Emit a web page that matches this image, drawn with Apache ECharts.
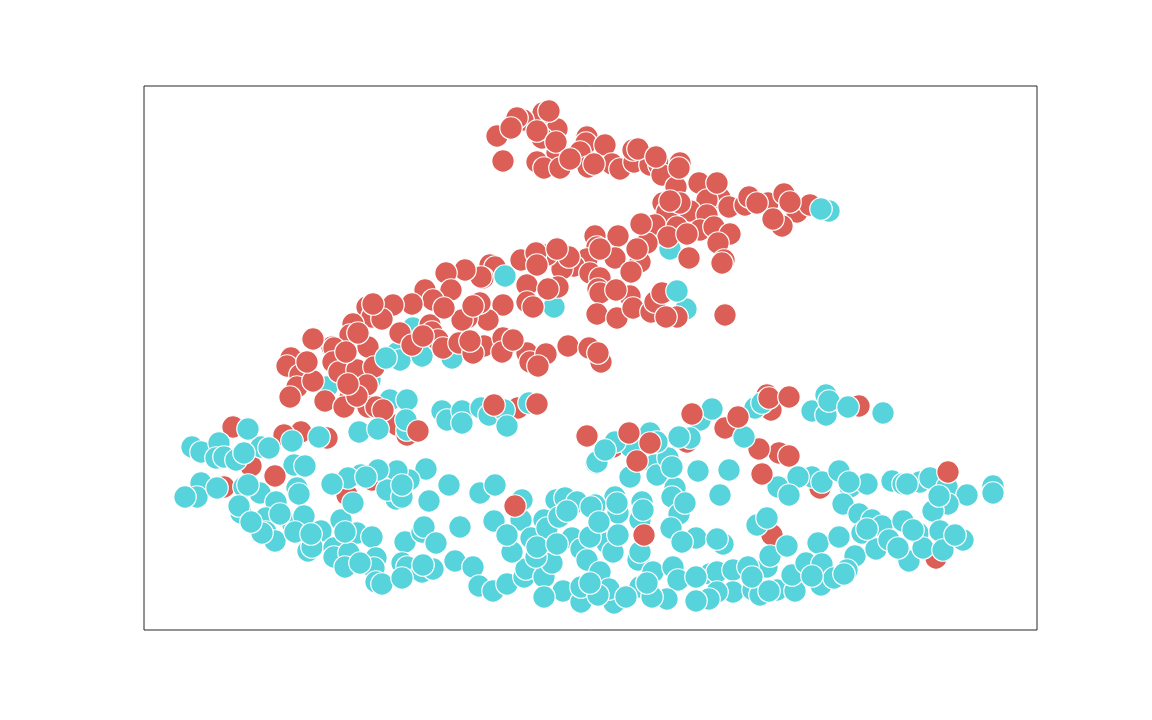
<!DOCTYPE html>
<html>
<head>
<meta charset="utf-8">
<title>scatter</title>
<script src="https://cdn.jsdelivr.net/npm/echarts@6/dist/echarts.min.js"></script>
<style>
html, body { margin: 0; padding: 0; background: #fff; }
#chart { width: 1152px; height: 720px; }
</style>
</head>
<body>
<div id="chart"></div>
<script>
"use strict"

// values, x runs 0..893 and y 0..544 (no axis labels in the original)
var xRange = [0, 893];
var yRange = [0, 544];

// class 1 points that sit under the red cloud
var cyanBack = [[410,323],[526,381],[269,302],[253,277],[256,270],[278,274],[308,272],[183,243],[209,248],[226,250],[246,230],[263,230],[542,321],[685,419]];

var redMain = [[399,517],[379,510],[373,512],[353,494],[413,501],[398,492],[443,493],[442,487],[461,485],[436,478],[413,477],[393,468],[400,462],[416,462],[359,469],[444,463],[468,466],[476,461],[490,468],[489,480],[506,465],[515,465],[518,455],[536,467],[532,443],[555,447],[576,432],[563,430],[585,423],[519,427],[523,418],[546,419],[536,427],[563,415],[601,425],[605,433],[624,427],[640,436],[653,418],[666,425],[638,404],[511,405],[533,403],[524,393],[556,400],[570,403],[586,396],[574,387],[580,370],[578,367],[545,372],[474,394],[451,394],[503,387],[496,368],[456,381],[453,383],[471,372],[443,371],[487,358],[430,364],[446,357],[456,352],[418,361],[425,373],[403,375],[377,370],[392,377],[414,343],[383,345],[383,328],[389,323],[359,325],[346,365],[351,363],[339,352],[454,341],[456,337],[486,334],[453,316],[473,312],[489,322],[507,318],[511,328],[518,337],[533,313],[581,315],[344,310],[336,327],[337,353],[321,360],[302,357],[307,340],[281,340],[289,330],[268,326],[249,325],[223,323],[228,313],[238,311],[209,306],[323,312],[318,310],[206,295],[224,283],[188,283],[190,282],[169,291],[147,272],[143,264],[156,255],[153,243],[146,233],[181,229],[189,268],[195,258],[213,260],[230,263],[223,245],[206,232],[200,223],[224,223],[232,223],[256,297],[286,305],[288,298],[294,290],[268,285],[299,282],[315,287],[340,284],[329,277],[359,292],[358,278],[383,277],[386,268],[402,276],[394,264],[424,284],[445,282],[457,268],[374,222],[253,205],[263,195],[157,198],[140,195],[89,203],[107,164],[80,143],[203,135],[228,150],[313,211],[183,192],[443,194],[469,183],[543,188],[581,202],[635,177],[615,181],[623,235],[627,220],[715,224],[676,142],[628,95],[792,72]];

// the red points whose whole circle shows
var redFront = [[202,278],[214,297],[229,326],[279,294],[326,289],[369,290],[454,277],[393,365],[413,381],[456,381],[526,429],[573,447],[367,502],[393,499],[405,519],[412,488],[426,471],[450,466],[494,481],[512,473],[535,462],[613,427],[646,428],[629,411],[543,396],[497,406],[493,381],[472,340],[522,313],[404,341],[329,324],[300,322],[213,234],[204,246],[169,249],[163,268],[239,220]];

var cyanMain = [[48,183],[57,178],[75,187],[72,172],[80,173],[92,170],[117,183],[125,182],[175,193],[215,198],[234,201],[263,200],[262,210],[298,219],[303,210],[318,219],[318,207],[337,222],[345,215],[360,220],[363,204],[385,227],[150,165],[161,164],[57,147],[53,133],[41,133],[73,142],[100,143],[116,137],[132,128],[153,142],[155,136],[97,117],[122,112],[122,98],[131,89],[118,97],[149,105],[160,114],[151,98],[177,99],[164,79],[168,83],[197,110],[213,97],[228,93],[190,82],[190,73],[205,77],[201,63],[232,72],[230,62],[232,48],[261,88],[278,98],[280,103],[292,87],[258,67],[263,63],[278,58],[289,61],[311,69],[329,63],[335,44],[349,39],[363,46],[380,53],[382,61],[400,53],[419,39],[437,28],[437,43],[316,103],[350,109],[368,78],[377,110],[378,130],[305,145],[285,129],[336,137],[351,145],[282,161],[265,150],[252,131],[253,159],[243,140],[234,160],[217,155],[204,152],[188,146],[387,92],[400,110],[403,102],[408,67],[392,73],[412,130],[421,132],[415,113],[433,128],[428,92],[437,81],[443,70],[452,167],[556,210],[611,222],[618,227],[668,219],[682,235],[682,215],[739,217],[546,192],[506,197],[453,168],[487,183],[486,153],[511,165],[513,155],[524,172],[554,159],[585,160],[576,135],[531,142],[528,133],[535,116],[527,102],[552,92],[579,86],[613,105],[623,112],[674,87],[711,74],[623,63],[471,133],[474,117],[451,125],[498,128],[496,110],[463,87],[469,78],[446,93],[494,70],[456,58],[509,58],[496,43],[529,63],[534,50],[566,56],[573,58],[589,60],[604,63],[589,38],[573,38],[565,31],[552,29],[523,31],[508,33],[470,27],[465,41],[454,35],[609,40],[616,35],[633,40],[651,39],[648,55],[662,67],[677,45],[678,66],[690,52],[703,60],[639,142],[634,143],[668,153],[678,148],[695,159],[706,143],[723,146],[748,149],[759,146],[776,148],[786,152],[803,143],[823,135],[849,144],[849,137],[804,126],[789,119],[699,126],[715,116],[728,110],[738,104],[718,97],[732,81],[745,90],[765,69],[759,109],[774,97],[779,82],[796,99],[819,90],[799,80],[361,354],[242,272],[533,339],[677,421]];

// the cyan points whose whole circle shows
var cyanFront = [[104,145],[148,189],[104,201],[100,177],[95,124],[107,108],[136,116],[167,96],[201,98],[216,67],[238,46],[258,52],[279,65],[258,133],[258,145],[209,127],[222,153],[363,95],[393,83],[413,86],[423,119],[447,123],[473,127],[455,108],[474,95],[499,120],[496,78],[503,47],[446,47],[400,33],[482,33],[552,53],[608,53],[625,39],[668,54],[700,56],[723,101],[769,100],[754,82],[811,95],[795,134],[763,146],[705,148],[654,153],[645,135],[471,188],[461,180],[535,193],[685,229],[704,223],[568,221],[600,193],[513,188],[528,163],[541,127],[538,88],[573,91],[626,74],[643,84],[695,93]];

// red points drawn over the cyan ones
var redTop = [[371,124],[500,95],[493,169],[485,197],[506,187],[548,216],[594,213],[625,232],[645,233],[645,174],[618,156],[804,158],[393,226],[350,225],[131,154],[274,199]];

var redColor = "#db5f57";
var cyanColor = "#57d3db";

function pointSeries(name, data, color){
    return {
        name : name,
        type : "scatter",
        data : data,
        symbol : "circle",
        symbolSize : 22.5,
        silent : true,
        itemStyle : {
            color : color,
            opacity : 1,
            borderColor : "#fff",
            borderWidth : 1.2
        }
    };
}

var scatter_chart = echarts.init(document.getElementById("chart"));
var option = {
    animation : false,
    backgroundColor : "#fff",
    grid : {
        show : true,
        left : 144,
        top : 86,
        width : 893,
        height : 544,
        borderColor : "#262626",
        borderWidth : 1
    },
    xAxis : {
        type : "value",
        min : xRange[0],
        max : xRange[1],
        show : false
    },
    yAxis : {
        type : "value",
        min : yRange[0],
        max : yRange[1],
        show : false
    },
    series : [
        pointSeries("1 back", cyanBack, cyanColor),
        pointSeries("0", redMain, redColor),
        pointSeries("0 front", redFront, redColor),
        pointSeries("1", cyanMain, cyanColor),
        pointSeries("1 front", cyanFront, cyanColor),
        pointSeries("0 top", redTop, redColor)
    ]
};
scatter_chart.setOption(option);
</script>
</body>
</html>
